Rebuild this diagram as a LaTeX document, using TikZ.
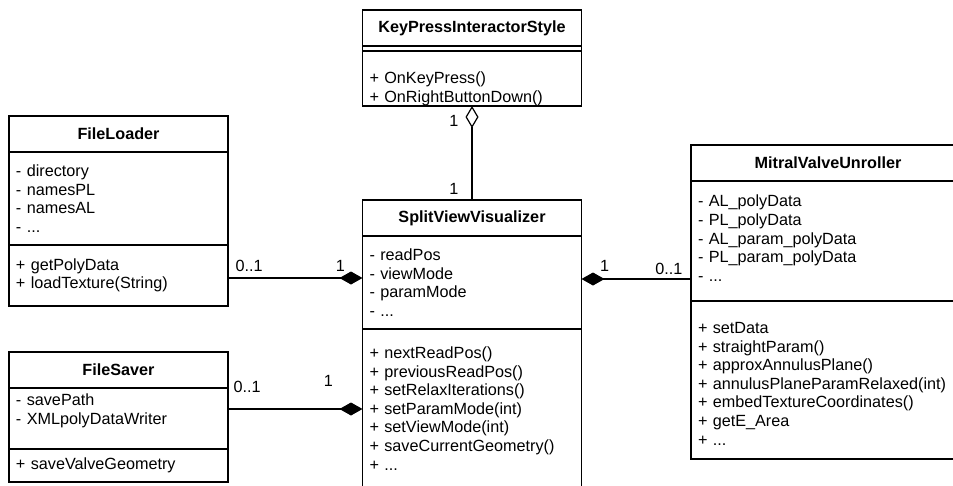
\documentclass[tikz,border=0pt]{standalone}
\usepackage{fontspec}
\setmainfont{Liberation Sans}
\usetikzlibrary{positioning,arrows.meta}
\newcommand{\umlfont}{\fontsize{16.2}{18.6}\selectfont}

\begin{document}
\begin{tikzpicture}[x=1pt, y=-1pt, line width=1.2pt,
	umltitle/.style={draw, minimum width=219pt, minimum height=36pt, inner sep=0pt, outer sep=0pt, font=\umlfont\bfseries, anchor=north west},
	umlpart/.style={draw, text width=205pt, align=left, inner xsep=7pt, inner ysep=0pt, outer sep=0pt, font=\umlfont},
	mult/.style={inner sep=0pt, font=\umlfont},
	comp/.style={-{Diamond[length=23pt,width=13pt]}},
	aggr/.style={-{Diamond[open,length=22pt,width=13pt]}}]

\useasboundingbox (0,0) rectangle (953,485);
\clip (0,0) rectangle (953,485);

% classes
\node[umltitle] (kpi-t) at (362.5,10) {KeyPressInteractorStyle};
\node[umlpart, minimum height=5pt, below=0pt of kpi-t] (kpi-a) {};
\node[umlpart, minimum height=55pt, below=0pt of kpi-a] (kpi-m) {\mbox{}\\[14pt]+ OnKeyPress()\\+ OnRightButtonDown()};

\node[umltitle] (fl-t) at (9,116) {FileLoader};
\node[umlpart, minimum height=93pt, below=0pt of fl-t] (fl-a) {- directory\\- namesPL\\- namesAL\\- ...};
\node[umlpart, minimum height=61pt, below=0pt of fl-a] (fl-m) {+ getPolyData\\+ loadTexture(String)};

\node[umltitle] (fs-t) at (9,352) {FileSaver};
\node[umlpart, minimum height=61pt, below=0pt of fs-t] (fs-a) {- savePath\\- XMLpolyDataWriter\\\mbox{}};
\node[umlpart, minimum height=33pt, below=0pt of fs-a] (fs-m) {+ saveValveGeometry};

\node[umltitle] (sv-t) at (362.5,200) {SplitViewVisualizer};
\node[umlpart, minimum height=93pt, below=0pt of sv-t] (sv-a) {- readPos\\- viewMode\\- paramMode\\- ...};
\node[umlpart, minimum height=159pt, below=0pt of sv-a] (sv-m) {+ nextReadPos()\\+ previousReadPos()\\+ setRelaxIterations()\\+ setParamMode(int)\\+ setViewMode(int)\\+ saveCurrentGeometry()\\+ ...};

\node[umltitle, minimum width=274pt] (mvu-t) at (691,145) {MitralValveUnroller};
\node[umlpart, text width=260pt, minimum height=120pt, below=0pt of mvu-t] (mvu-a) {- AL\_polyData\\- PL\_polyData\\- AL\_param\_polyData\\- PL\_param\_polyData\\- ...\\[-13pt]\mbox{}};
\node[umlpart, text width=260pt, minimum height=158pt, below=0pt of mvu-a] (mvu-m) {\mbox{}\\+ setData\\+ straightParam()\\+ approxAnnulusPlane()\\+ annulusPlaneParamRelaxed(int)\\+ embedTextureCoordinates()\\+ getE\_Area\\+ ...};

% relations
\draw[aggr] (kpi-m.south |- sv-t.north) -- (kpi-m.south);
\node[mult, below left=9pt and 13pt of kpi-m.south] (kpi-n1) {1};
\node[mult, above left=5pt and 13pt of sv-t.north] (kpi-n2) {1};

\coordinate (fl-s) at ([yshift=-2.5pt]fl-m.east);
\draw[comp] (fl-s) -- (fl-s -| sv-a.west) coordinate (fl-e);
\node[mult, above right=6pt and 7pt of fl-s] (fl-n1) {0..1};
\node[mult, above left=6pt and 17pt of fl-e] (fl-n2) {1};

\coordinate (fs-s) at ([yshift=9.5pt]fs-a.east);
\draw[comp] (fs-s) -- (fs-s -| sv-m.west) coordinate (fs-e);
\node[mult, above right=16pt and 5pt of fs-s] (fs-n1) {0..1};
\node[mult, above left=22pt and 29pt of fs-e] (fs-n2) {1};

\coordinate (mvu-s) at ([yshift=3.5pt]sv-a.east);
\draw[comp] (mvu-s -| mvu-a.west) coordinate (mvu-e) -- (mvu-s);
\node[mult, above right=7pt and 18pt of mvu-s] (mvu-n1) {1};
\node[mult, above left=4pt and 8pt of mvu-e] (mvu-n2) {0..1};

\end{tikzpicture}
\end{document}
